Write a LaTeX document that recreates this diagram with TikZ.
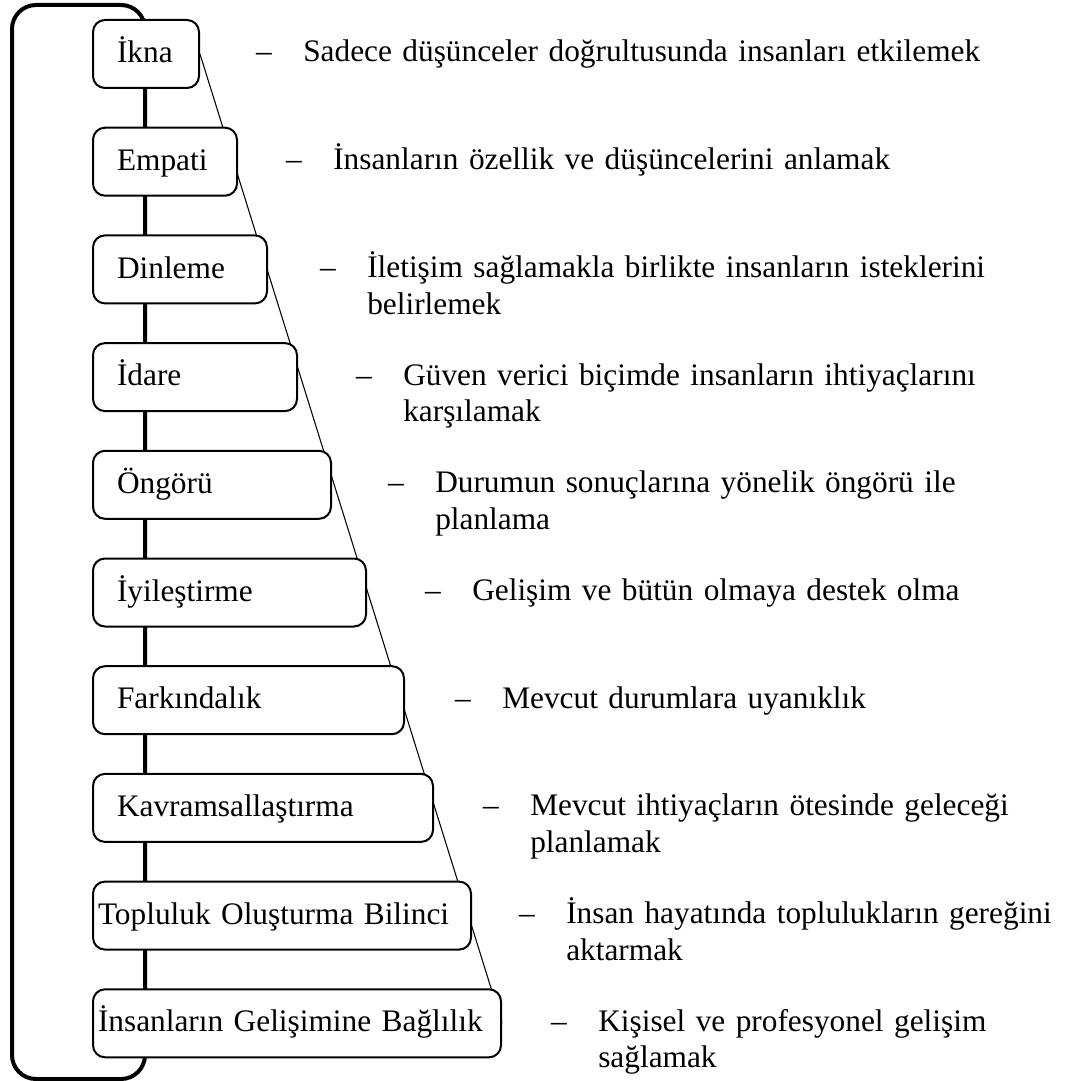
\documentclass[tikz,border=0pt]{standalone}
\usepackage{fontspec}
\setmainfont{Liberation Serif}
\usetikzlibrary{backgrounds}

\begin{document}
\begin{tikzpicture}[x=0.75pt,y=-0.75pt,
  font=\fontsize{23.5}{27.5}\selectfont,
  itembox/.style={draw, line width=1.5pt, rounded corners=9pt, fill=white, anchor=west, align=left, minimum height=51pt, inner ysep=0pt, text height=18pt, text depth=5pt},
  itemtext/.style={anchor=base west, align=left, inner sep=0pt, text width=700pt},
  itemdash/.style={anchor=base east, inner sep=0pt},
  frame/.style={line width=3pt, rounded corners=18pt},
  slant/.style={line width=0.8pt}]
\useasboundingbox (0,0) rectangle (1065,1081);
\foreach \i/\w/\s/\lbl in {1/43.5/18/İkna, 2/72/18/Empati, 3/94.5/18/Dinleme, 4/117/18/İdare, 5/142.5/18/Öngörü, 6/168.75/18/İyileştirme, 7/197.25/18/Farkındalık, 8/219/18/Kavramsallaştırma, 9/276/3.75/Topluluk Oluşturma Bilinci, 10/298.5/3.75/İnsanların Gelişimine Bağlılık}
  \node[itembox, text width=\w pt, inner xsep=\s pt] (b\i) at (92,{54+(\i-1)*107.7}) {\lbl};
\foreach \i/\x/\txt in {1/303/{Sadece düşünceler doğrultusunda insanları etkilemek}, 2/333/{İnsanların özellik ve düşüncelerini anlamak}, 3/367/{İletişim sağlamakla birlikte insanların isteklerini\\belirlemek}, 4/403/{Güven verici biçimde insanların ihtiyaçlarını\\karşılamak}, 5/435/{Durumun sonuçlarına yönelik öngörü ile\\planlama}, 6/472/{Gelişim ve bütün olmaya destek olma}, 7/502/{Mevcut durumlara uyanıklık}, 8/530/{Mevcut ihtiyaçların ötesinde geleceği\\planlamak}, 9/566/{İnsan hayatında toplulukların gereğini\\aktarmak}, 10/598/{Kişisel ve profesyonel gelişim\\sağlamak}}
  {\node[itemtext] (t\i) at (\x,{62+(\i-1)*107.7}) {\txt};
  \node[itemdash] (d\i) at ([xshift=-23.25pt]t\i.base west) {–};}
\begin{scope}[on background layer]
\draw[frame] (12,5) rectangle (145,1079);
\draw[slant] (b1.east) -- (b10.east);
\end{scope}
\end{tikzpicture}
\end{document}
